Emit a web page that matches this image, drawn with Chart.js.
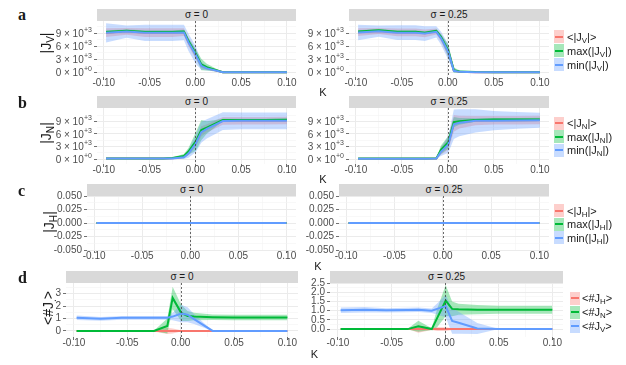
<!DOCTYPE html>
<html><head><meta charset="utf-8">
<script src="https://cdn.jsdelivr.net/npm/chart.js@4.4.1/dist/chart.umd.min.js"></script>
<style>
html,body{margin:0;padding:0;background:#fff;}
#root{position:relative;width:626px;height:365px;overflow:hidden;font-family:'Liberation Sans',Arial,sans-serif;color:#1A1A1A;}
canvas{position:absolute;}
.strip{position:absolute;background:#D9D9D9;color:#1A1A1A;font-size:10px;line-height:12px;text-align:center;white-space:nowrap;}
.lt{position:absolute;font-family:'Liberation Serif','DejaVu Serif',serif;font-weight:bold;font-size:16px;line-height:16px;}
.ytitle{position:absolute;font-size:14px;line-height:14px;white-space:nowrap;transform:translate(-50%,-50%) rotate(-90deg);}
.xtitle{position:absolute;font-size:11px;line-height:11px;transform:translate(-50%,-50%);}
.key{position:absolute;width:10px;height:13px;}
.keyline{position:absolute;left:1px;right:1px;top:5.5px;height:2px;}
.leg{position:absolute;font-size:11px;line-height:11px;white-space:nowrap;transform:translateY(-50%);}
sub{font-size:72%;vertical-align:-0.3em;line-height:0;}
</style></head><body><div id="root"></div>
<script>
// ---------------- data ----------------
const K = [-0.0975, -0.075, -0.055, -0.035, -0.025, -0.0125, -0.0075, 0.0005, 0.0065, 0.0125, 0.03, 0.05, 0.075, 0.1];

// row a: |J_V|
const jv0Avg   = [9150, 9450, 9150, 9150, 9150, 9250, 7000, 4100, 1600, 1000, 0, 0, 0, 0];
const jv0AvgSd = [1000, 800, 1000, 1000, 1000, 900, 1000, 1100, 600, 400, 0, 0, 0, 0];
const jv0Max   = [9300, 9600, 9300, 9300, 9300, 9400, 7200, 4300, 1800, 1200, 0, 0, 0, 0];
const jv0MaxSd = [400, 300, 400, 400, 400, 400, 700, 1000, 1300, 800, 0, 0, 0, 0];
const jv0Min   = [9100, 9400, 9100, 9100, 9100, 9200, 6900, 4000, 1500, 900, 0, 0, 0, 0];
const jv0MinSd = [2200, 1400, 1900, 1900, 1900, 1800, 2000, 2000, 900, 500, 0, 0, 0, 0];

const jv25Avg   = [9250, 9550, 9200, 9200, 9000, 9400, 8000, 4800, 400, 150, 0, 0, 0, 0];
const jv25AvgSd = [900, 700, 900, 900, 900, 700, 900, 1200, 300, 150, 0, 0, 0, 0];
const jv25Max   = [9400, 9700, 9350, 9350, 9150, 9550, 8200, 5000, 500, 200, 50, 0, 0, 0];
const jv25MaxSd = [300, 300, 300, 300, 300, 300, 600, 1500, 600, 300, 100, 0, 0, 0];
const jv25Min   = [9200, 9500, 9150, 9150, 8950, 9350, 7900, 4700, 350, 100, 0, 0, 0, 0];
const jv25MinSd = [1800, 1300, 1700, 1700, 1700, 1300, 1500, 1800, 400, 100, 0, 0, 0, 0];

// row b: |J_N|
const jn0Avg   = [100, 100, 100, 100, 200, 500, 1500, 3900, 6600, 7300, 9100, 9150, 9150, 9200];
const jn0AvgSd = [100, 100, 100, 100, 150, 300, 600, 1000, 1200, 1000, 900, 900, 900, 900];
const jn0Max   = [150, 150, 150, 150, 250, 700, 1800, 4200, 6900, 7500, 9300, 9300, 9300, 9350];
const jn0MaxSd = [50, 50, 50, 50, 200, 500, 800, 2200, 2400, 1500, 300, 300, 300, 300];
const jn0Min   = [100, 100, 100, 100, 150, 400, 1300, 3700, 6400, 7200, 9050, 9100, 9100, 9100];
const jn0MinSd = [100, 100, 100, 100, 150, 400, 1000, 2000, 2500, 2300, 2100, 2000, 2000, 2000];

const jn25Avg   = [80, 80, 80, 80, 80, 100, 1900, 3700, 8500, 8800, 9150, 9250, 9250, 9300];
const jn25AvgSd = [50, 50, 50, 50, 50, 100, 900, 1500, 2000, 1500, 1100, 1000, 1000, 1000];
const jn25Max   = [100, 100, 100, 100, 100, 150, 2200, 4000, 8800, 9000, 9300, 9400, 9400, 9450];
const jn25MaxSd = [30, 30, 30, 30, 30, 50, 1000, 1500, 1200, 800, 400, 400, 400, 400];
const jn25Min   = [70, 70, 70, 70, 70, 100, 1700, 3500, 8300, 8650, 9100, 9150, 9200, 9250];
const jn25MinSd = [50, 50, 50, 50, 50, 100, 1000, 2000, 3500, 3200, 2800, 2300, 2000, 1800];

// row c: |J_H| (all zero)
const jhValues = [0, 0, 0, 0, 0, 0, 0, 0, 0, 0, 0, 0, 0, 0];
const jhSd     = [0, 0, 0, 0, 0, 0, 0, 0, 0, 0, 0, 0, 0, 0];

// row d: <#J.>
const nj0H   = [0, 0, 0, 0, 0, 0, 0, 0, 0, 0, 0, 0, 0, 0];
const nj0HSd = [0, 0, 0, 0, 0.05, 0.25, 0.2, 0.05, 0, 0, 0, 0, 0, 0];
const nj0N   = [0, 0, 0, 0, 0, 0.4, 2.65, 1.45, 1.2, 1.15, 1.1, 1.08, 1.08, 1.08];
const nj0NSd = [0, 0, 0, 0, 0.03, 0.6, 0.9, 0.65, 0.4, 0.3, 0.22, 0.22, 0.22, 0.22];
const nj0V   = [1.05, 0.97, 1.05, 1.05, 1.05, 1.05, 1.15, 1.4, 1.3, 0.95, 0, 0, 0, 0];
const nj0VSd = [0.18, 0.15, 0.15, 0.15, 0.15, 0.15, 0.3, 0.7, 0.6, 0.4, 0, 0, 0, 0];

const nj25H   = [0, 0, 0, 0, 0, 0, 0, 0, 0, 0, 0, 0, 0, 0];
const nj25HSd = [0, 0, 0, 0, 0.2, 0.05, 0.1, 0.1, 0.05, 0, 0, 0, 0, 0];
const nj25N   = [0, 0, 0, 0, 0.15, 0, 0.6, 1.55, 1.1, 1.08, 1.06, 1.05, 1.05, 1.05];
const nj25NSd = [0, 0, 0, 0.02, 0.3, 0.05, 0.5, 0.85, 0.4, 0.3, 0.25, 0.22, 0.22, 0.22];
const nj25V   = [1.03, 1.05, 1.02, 1.04, 1.05, 1.0, 1.1, 1.25, 0.45, 0.35, 0.03, 0, 0, 0];
const nj25VSd = [0.15, 0.15, 0.12, 0.12, 0.12, 0.12, 0.3, 0.6, 0.7, 0.6, 0.3, 0, 0, 0];

// ticks & labels
const xTicks = [-0.1, -0.05, 0, 0.05, 0.1];
const xTickLabels = ['-0.10', '-0.05', '0.00', '0.05', '0.10'];
const xMinor = [-0.075, -0.025, 0.025, 0.075];
const yTicksJ = [0, 3000, 6000, 9000];
const yTickMantJ = ['0 × 10', '3 × 10', '6 × 10', '9 × 10'];
const yTickExpJ = ['+0', '+3', '+3', '+3'];
const yMinorJ = [1500, 4500, 7500, 10500];
const yTicksH = [-0.05, -0.025, 0, 0.025, 0.05];
const yTickLabelsH = ['-0.050', '-0.025', '0.000', '0.025', '0.050'];
const yMinorH = [-0.0375, -0.0125, 0.0125, 0.0375];
const yTicksD0 = [0, 1, 2, 3];
const yTickLabelsD0 = ['0', '1', '2', '3'];
const yMinorD0 = [0.5, 1.5, 2.5, 3.5];
const yTicksD25 = [0, 0.5, 1, 1.5, 2, 2.5];
const yTickLabelsD25 = ['0.0', '0.5', '1.0', '1.5', '2.0', '2.5'];
const yMinorD25 = [0.25, 0.75, 1.25, 1.75, 2.25];
const refK = 0;

const stripLabels = ['σ = 0', 'σ = 0.25'];
const rowLetters = ['a', 'b', 'c', 'd'];
const yTitles = ['|J<sub>V</sub>|', '|J<sub>N</sub>|', '|J<sub>H</sub>|', '&lt;#J<sub>.</sub>&gt;'];
const xTitle = 'K';
const legendA = ['&lt;|J<sub>V</sub>|&gt;', 'max(|J<sub>V</sub>|)', 'min(|J<sub>V</sub>|)'];
const legendB = ['&lt;|J<sub>N</sub>|&gt;', 'max(|J<sub>N</sub>|)', 'min(|J<sub>N</sub>|)'];
const legendC = ['&lt;|J<sub>H</sub>|&gt;', 'max(|J<sub>H</sub>|)', 'min(|J<sub>H</sub>|)'];
const legendD = ['&lt;#J<sub>H</sub>&gt;', '&lt;#J<sub>N</sub>&gt;', '&lt;#J<sub>V</sub>&gt;'];

// ---------------- drawing ----------------
const COLORS = ['#F8766D', '#00BA38', '#619CFF'];
const RIBBON_ALPHA = 0.35;
const GRID_MAJ = '#EBEBEB', GRID_MIN = '#F4F4F4';
const X_MIN = -0.1074, X_MAX = 0.1099;
const FONT = "'Liberation Sans', 'DejaVu Sans', Arial, sans-serif";
Chart.defaults.font.family = FONT;
Chart.defaults.font.size = 10;

const root = document.getElementById('root');
function el(cls, html, style) {
  const d = document.createElement('div');
  d.className = cls; d.innerHTML = html;
  Object.assign(d.style, style); root.appendChild(d); return d;
}
function rgba(hex, a) {
  const n = parseInt(hex.slice(1), 16);
  return `rgba(${(n >> 16) & 255},${(n >> 8) & 255},${n & 255},${a})`;
}
function findIdx(v, arr) { return arr.findIndex(t => Math.abs(t - v) < 1e-9); }

const vlinePlugin = {
  id: 'vline',
  afterDatasetsDraw(chart) {
    const { ctx, chartArea: a, scales: { x } } = chart;
    const px = Math.round(x.getPixelForValue(refK)) + 0.5;
    ctx.save();
    ctx.strokeStyle = '#444'; ctx.lineWidth = 0.8; ctx.setLineDash([2, 2]);
    ctx.beginPath(); ctx.moveTo(px, a.top); ctx.lineTo(px, a.bottom); ctx.stroke();
    ctx.restore();
  }
};

// y tick labels of the form  m × 10^e  drawn at the y scale's tick pixels
const supLabelPlugin = {
  id: 'supLabels',
  afterDraw(chart, args, opts) {
    if (!opts || !opts.mant) return;
    const { ctx, chartArea: a, scales: { y } } = chart;
    ctx.save();
    ctx.fillStyle = '#4D4D4D';
    opts.values.forEach((v, i) => {
      const py = y.getPixelForValue(v);
      const xr = a.left - 5;
      ctx.font = `7px ${FONT}`;
      ctx.textAlign = 'right'; ctx.textBaseline = 'middle';
      const ew = ctx.measureText(opts.exp[i]).width;
      ctx.fillText(opts.exp[i], xr, py - 3);
      ctx.font = `10px ${FONT}`;
      ctx.fillText(opts.mant[i], xr - ew - 0.3, py + 1);
    });
    ctx.restore();
  }
};

function panel(p) {
  const PL = 2, PT = 8, PR = 16, XH = 18, PB = 2;
  const W = PL + p.yw + p.w + PR, H = PT + p.h + XH + PB;
  const cv = document.createElement('canvas');
  cv.width = W; cv.height = H;
  Object.assign(cv.style, { left: (p.x - p.yw - PL) + 'px', top: (p.y - PT) + 'px', width: W + 'px', height: H + 'px' });
  root.appendChild(cv);
  el('strip', p.strip, { left: p.x + 'px', top: (p.y - 12) + 'px', width: p.w + 'px', height: '12px' });

  const ds = [];
  p.series.forEach((s, i) => {
    const [c, sd] = s;
    ds.push({ data: K.map((k, j) => ({ x: k, y: c[j] + sd[j] })), fill: '+1', backgroundColor: rgba(COLORS[i], RIBBON_ALPHA),
      borderColor: 'rgba(0,0,0,0)', borderWidth: 0, pointRadius: 0, order: 5 - i });
    ds.push({ data: K.map((k, j) => ({ x: k, y: c[j] - sd[j] })), fill: false,
      borderColor: 'rgba(0,0,0,0)', borderWidth: 0, pointRadius: 0, order: 5 - i });
  });
  p.series.forEach((s, i) => {
    ds.push({ data: K.map((k, j) => ({ x: k, y: s[0][j] })), fill: false, borderColor: COLORS[i],
      borderWidth: 2, pointRadius: 0, tension: 0, order: 2 - i });
  });

  const xAll = xTicks.concat(xMinor).sort((a, b) => a - b);
  const yAll = p.yTicks.concat(p.yMinor).sort((a, b) => a - b);
  const gridOpts = (maj) => ({
    color: c => (c.tick && findIdx(c.tick.value, maj) >= 0) ? GRID_MAJ : GRID_MIN,
    lineWidth: c => (c.tick && findIdx(c.tick.value, maj) >= 0) ? 1 : 0.6,
    tickLength: 3,
    tickColor: c => (c.tick && findIdx(c.tick.value, maj) >= 0) ? '#4D4D4D' : 'rgba(0,0,0,0)',
    tickWidth: 0.8
  });

  new Chart(cv, {
    type: 'line',
    data: { datasets: ds },
    options: {
      responsive: false, animation: false, devicePixelRatio: 1,
      layout: { padding: { left: PL, top: PT, right: PR, bottom: PB } },
      plugins: { legend: { display: false }, tooltip: { enabled: false },
        supLabels: p.yMant ? { values: p.yTicks, mant: p.yMant, exp: p.yExp } : {} },
      elements: { line: { tension: 0 } },
      scales: {
        x: {
          type: 'linear', min: X_MIN, max: X_MAX,
          afterBuildTicks: ax => { ax.ticks = xAll.map(v => ({ value: v })); },
          afterFit: ax => { ax.height = XH; },
          ticks: { autoSkip: false, maxRotation: 0, minRotation: 0, padding: -3, color: '#4D4D4D',
            callback: v => { const i = findIdx(v, xTicks); return i >= 0 ? xTickLabels[i] : ''; } },
          grid: gridOpts(xTicks),
          border: { display: false }
        },
        y: {
          type: 'linear', min: p.yMin, max: p.yMax,
          afterBuildTicks: ax => { ax.ticks = yAll.map(v => ({ value: v })); },
          afterFit: ax => { ax.width = p.yw; },
          ticks: { autoSkip: false, padding: 2, color: '#4D4D4D',
            callback: v => { if (p.yMant) return ''; const i = findIdx(v, p.yTicks); return i >= 0 ? p.yLabels[i] : ''; } },
          grid: gridOpts(p.yTicks),
          border: { display: false }
        }
      }
    },
    plugins: [vlinePlugin, supLabelPlugin]
  });
}

const rows = [
  { y: 21, h: 56, left: { x: 97, w: 199, yw: 46 }, right: { x: 349, w: 200, yw: 46 },
    yTicks: yTicksJ, yMant: yTickMantJ, yExp: yTickExpJ, yMinor: yMinorJ,
    ranges: [[-1085, 11840], [-1085, 11840]],
    series: [[[jv0Avg, jv0AvgSd], [jv0Max, jv0MaxSd], [jv0Min, jv0MinSd]],
             [[jv25Avg, jv25AvgSd], [jv25Max, jv25MaxSd], [jv25Min, jv25MinSd]]],
    legend: legendA, keyX: 554, keyY: [36.5, 50.5, 64.5], textX: 567,
    letterTop: 7.3, title: [46, 43], xt: [323, 92] },
  { y: 108, h: 56, left: { x: 97, w: 199, yw: 46 }, right: { x: 349, w: 200, yw: 46 },
    yTicks: yTicksJ, yMant: yTickMantJ, yExp: yTickExpJ, yMinor: yMinorJ,
    ranges: [[-1190, 12170], [-1190, 12170]],
    series: [[[jn0Avg, jn0AvgSd], [jn0Max, jn0MaxSd], [jn0Min, jn0MinSd]],
             [[jn25Avg, jn25AvgSd], [jn25Max, jn25MaxSd], [jn25Min, jn25MinSd]]],
    legend: legendB, keyX: 554, keyY: [123, 136.5, 150], textX: 567,
    letterTop: 95, title: [46, 133], xt: [323, 179] },
  { y: 196, h: 54, left: { x: 87, w: 209, yw: 36 }, right: { x: 339, w: 210, yw: 36 },
    yTicks: yTicksH, yLabels: yTickLabelsH, yMinor: yMinorH,
    ranges: [[-0.05, 0.05], [-0.05, 0.05]],
    series: [[[jhValues, jhSd], [jhValues, jhSd], [jhValues, jhSd]],
             [[jhValues, jhSd], [jhValues, jhSd], [jhValues, jhSd]]],
    legend: legendC, keyX: 554, keyY: [210.7, 224.3, 237.7], textX: 567,
    letterTop: 182.6, title: [49, 222], xt: [318, 266] },
  { y: 283, h: 54, left: { x: 66, w: 232, yw: 26 }, right: { x: 330, w: 233, yw: 26 },
    yTicksSplit: [[yTicksD0, yTickLabelsD0, yMinorD0], [yTicksD25, yTickLabelsD25, yMinorD25]],
    ranges: [[-0.49, 3.85], [-0.43, 2.51]],
    series: [[[nj0H, nj0HSd], [nj0N, nj0NSd], [nj0V, nj0VSd]],
             [[nj25H, nj25HSd], [nj25N, nj25NSd], [nj25V, nj25VSd]]],
    legend: legendD, keyX: 570, keyY: [298, 312, 326], textX: 582,
    letterTop: 269.6, title: [47.5, 308], xt: [314.5, 354] }
];

rows.forEach((r, ri) => {
  [r.left, r.right].forEach((c, ci) => {
    const t = r.yTicksSplit ? r.yTicksSplit[ci] : [r.yTicks, r.yLabels, r.yMinor];
    panel({ x: c.x, y: r.y, w: c.w, h: r.h, yw: c.yw, strip: stripLabels[ci],
      yTicks: t[0], yLabels: t[1], yMinor: t[2], yMant: r.yMant, yExp: r.yExp,
      yMin: r.ranges[ci][0], yMax: r.ranges[ci][1], series: r.series[ci] });
  });
  el('lt', rowLetters[ri], { left: '18px', top: r.letterTop + 'px' });
  el('ytitle', yTitles[ri], { left: r.title[0] + 'px', top: r.title[1] + 'px' });
  el('xtitle', xTitle, { left: r.xt[0] + 'px', top: r.xt[1] + 'px' });
  r.legend.forEach((txt, i) => {
    const k = el('key', '', { left: r.keyX + 'px', top: (r.keyY[i] - 6.5) + 'px', background: rgba(COLORS[i], RIBBON_ALPHA) });
    const ln = document.createElement('div'); ln.className = 'keyline'; ln.style.background = COLORS[i]; k.appendChild(ln);
    el('leg', txt, { left: r.textX + 'px', top: r.keyY[i] + 'px' });
  });
});
</script>
</body></html>
